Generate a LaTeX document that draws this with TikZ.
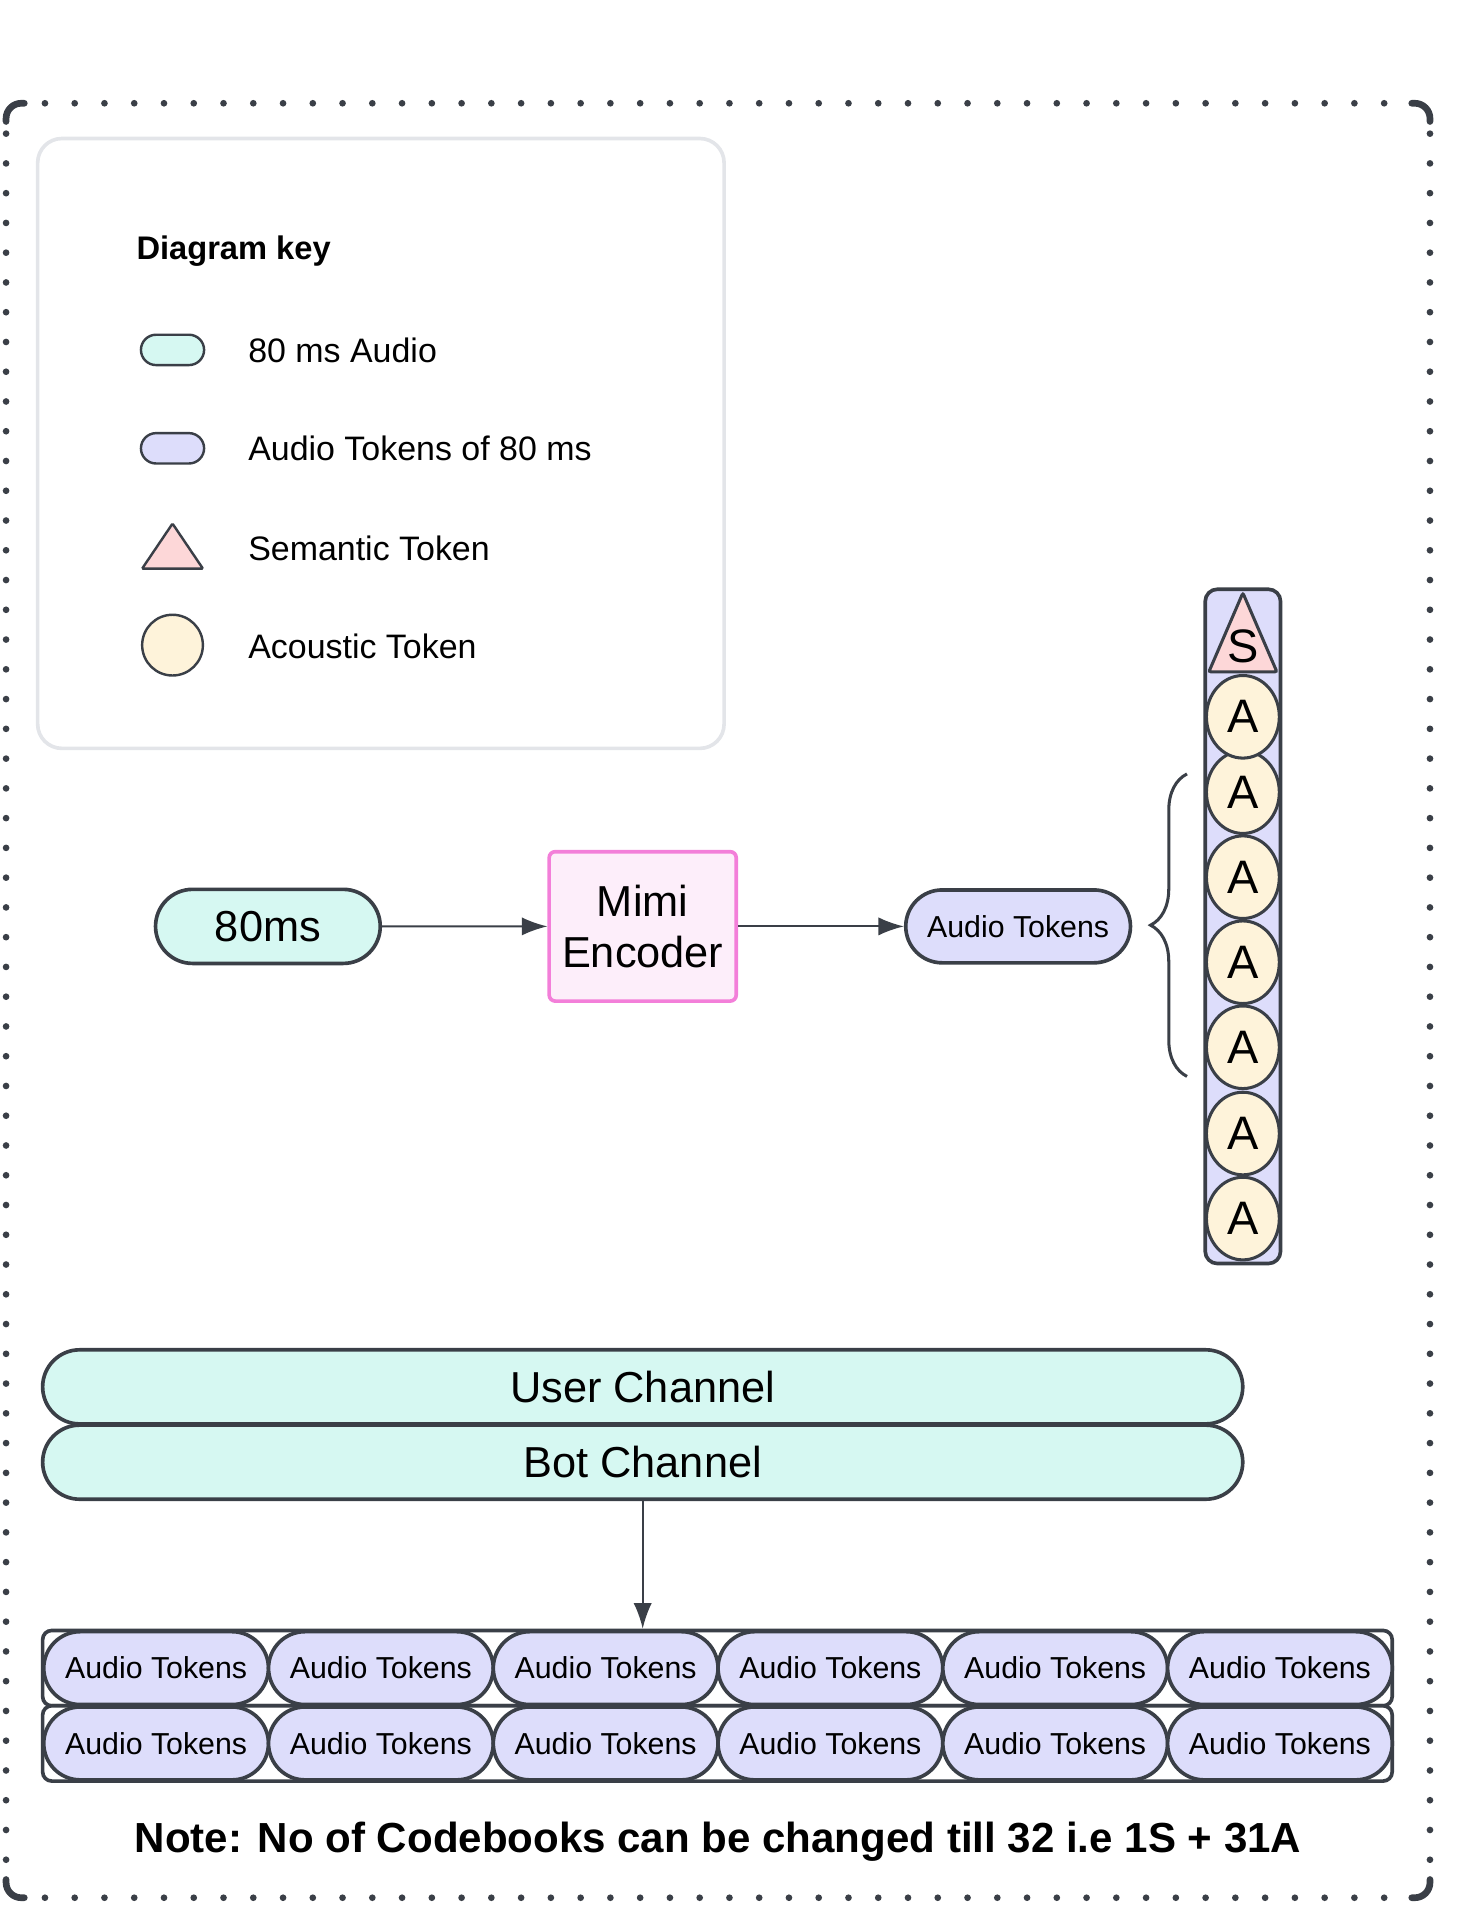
\documentclass[tikz,border=0pt]{standalone}
\usepackage{fontspec}
\setmainfont{Liberation Sans}
\usetikzlibrary{arrows.meta,positioning,shapes.geometric,shapes.misc,decorations.pathreplacing,calc}

\definecolor{edgec}{HTML}{3A3F47}
\definecolor{mintc}{HTML}{D6F8F2}
\definecolor{lavc}{HTML}{DDDDFB}
\definecolor{pinkc}{HTML}{FDD7D8}
\definecolor{creamc}{HTML}{FEF3DA}
\definecolor{mimifill}{HTML}{FDEEFA}
\definecolor{mimiedge}{HTML}{F37FD9}
\definecolor{keyedge}{HTML}{E3E5E9}

\begin{document}
\begin{tikzpicture}[x=0.02cm,y=-0.02cm,>={Latex[length=0.42cm,width=0.3cm]},
  pill/.style={rounded rectangle, draw=edgec, line width=0.06cm, inner sep=0pt},
  audiopill/.style={pill, fill=mintc, minimum width=3.7cm, minimum height=1.22cm,
    font=\fontsize{20.3}{24}\selectfont},
  tokpill/.style={pill, fill=lavc, minimum width=3.7cm, minimum height=1.2cm,
    font=\fontsize{14.2}{17}\selectfont},
  chanpill/.style={pill, fill=mintc, minimum width=19.76cm, minimum height=1.22cm,
    font=\fontsize{20.3}{24}\selectfont},
  keytext/.style={anchor=west, inner xsep=0pt, font=\fontsize{15.9}{19}\selectfont},
  acou/.style={ellipse, draw=edgec, fill=creamc, line width=0.05cm, minimum width=1.2cm,
    minimum height=1.36cm, inner sep=0pt, font=\fontsize{22}{26}\selectfont},
  rowbox/.style={draw=edgec, fill=white, line width=0.06cm, rounded corners=0.15cm,
    minimum width=22.22cm, minimum height=1.24cm},
  dots/.style={edgec, line width=0.11cm, line cap=round, dash pattern=on 0pt off 0.49cm},
  link/.style={->, draw=edgec, fill=edgec, line width=0.03cm}]

\useasboundingbox (0,0) rectangle (1200,1568);

% outer frame
\draw[dots] (5,110) -- (5,1540);
\draw[dots] (1177,110) -- (1177,1540);
\draw[dots] (37,85) -- (1160,85);
\draw[dots] (37,1562) -- (1160,1562);
\draw[edgec, line width=0.11cm, line cap=round, rounded corners=0.25cm] (5,100) -- (5,85) -- (20,85);
\draw[edgec, line width=0.11cm, line cap=round, rounded corners=0.25cm] (1162,85) -- (1177,85) -- (1177,100);
\draw[edgec, line width=0.11cm, line cap=round, rounded corners=0.25cm] (5,1547) -- (5,1562) -- (20,1562);
\draw[edgec, line width=0.11cm, line cap=round, rounded corners=0.25cm] (1162,1562) -- (1177,1562) -- (1177,1547);

% diagram key
\draw[keyedge, line width=0.06cm, rounded corners=0.4cm] (31,114) rectangle (596,616);
\node[anchor=west, inner xsep=0pt, font=\bfseries\fontsize{15.3}{18}\selectfont] (keytitle) at (112,207) {Diagram key};

\node[pill, fill=mintc, line width=0.04cm, minimum width=1.04cm, minimum height=0.5cm] (keyaudio) at (142,288) {};
\node[keytext] (keyaudiotxt) at (204,288) {80 ms Audio};

\node[pill, fill=lavc, line width=0.04cm, minimum width=1.04cm, minimum height=0.5cm] (keytok) at (142,369) {};
\node[keytext] (keytoktxt) at (204,369) {Audio Tokens of 80 ms};

\draw[edgec, fill=pinkc, line width=0.04cm, rounded corners=0.5pt] (117,468) -- (142,431) -- (167,468) -- cycle;
\node[keytext] (keysemtxt) at (204,451) {Semantic Token};

\node[circle, draw=edgec, fill=creamc, line width=0.04cm, minimum size=1.0cm, inner sep=0pt] (keyac) at (142,531) {};
\node[keytext] (keyactxt) at (204,532) {Acoustic Token};

% encoder
\node[audiopill] (sample) at (220.5,762.5) {80ms};
\node[draw=mimiedge, fill=mimifill, line width=0.06cm, rounded corners=0.1cm,
  minimum width=3.08cm, minimum height=2.46cm, align=center,
  font=\fontsize{20.3}{23.9}\selectfont] (mimi) at (529,762.5) {Mimi\\Encoder};
\node[tokpill] (tokens) at (838,762.5) {Audio Tokens};

\draw[link] (sample) -- (mimi);
\draw[link] (mimi) -- (tokens);

% codebook column
\draw[edgec, fill=lavc, line width=0.06cm, rounded corners=0.2cm] (992,485) rectangle (1054,1040);
\draw[edgec, fill=pinkc, line width=0.05cm, rounded corners=1pt] (995,553) -- (1023,488) -- (1051,553) -- cycle;
\node[font=\fontsize{22}{26}\selectfont] (sem) at (1023,532) {S};
\foreach \yy [count=\k] in {1003,933,862,792,722,652,590}
  \node[acou] (ac\k) at (1023,\yy) {A};

\coordinate (bracetop) at (977,637);
\coordinate (bracebot) at (977,886);
\draw[edgec, line width=0.05cm, decorate, decoration={brace, amplitude=0.6cm}] (bracebot) -- (bracetop);

% channels
\node[chanpill] (user) at (529,1141.5) {User Channel};
\node[chanpill] (bot) at (529,1203.5) {Bot Channel};

\foreach \r/\yy in {1/1373,2/1435}{
  \node[rowbox] (row\r) at (590.5,\yy) {};
  \foreach \i in {0,...,5}
    \node[tokpill] (tok\r\i) at ({128.5+185*\i},\yy) {Audio Tokens};
}

\draw[link] (bot.south) -- (bot.south |- row1.north);

\node[font=\bfseries\fontsize{19.7}{23}\selectfont] (note) at (591,1516)
  {Note: No of Codebooks can be changed till 32 i.e 1S + 31A};

\end{tikzpicture}
\end{document}
